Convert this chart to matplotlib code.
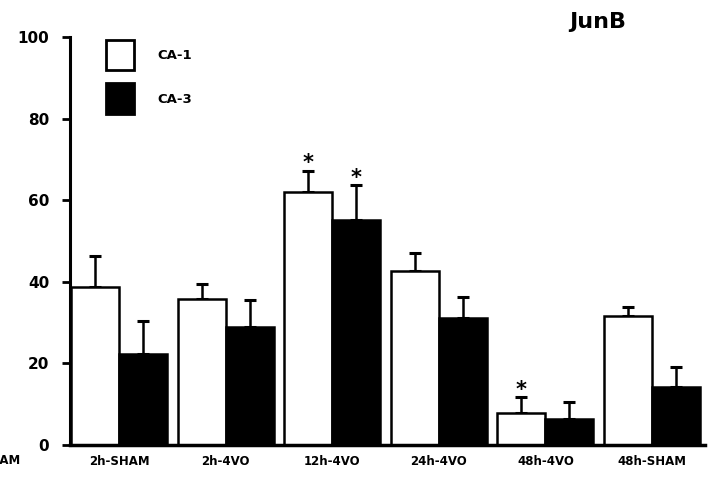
import numpy as np
import matplotlib
matplotlib.use("Agg")
import matplotlib.pyplot as plt
from matplotlib.patches import Rectangle

# data
groups = ['2h-SHAM', '2h-4VO', '12h-4VO', '24h-4VO', '48h-4VO', '48h-SHAM']
ca1 = [38.8, 35.8, 61.9, 42.7, 7.9, 31.6]
ca1_err = [7.6, 3.7, 5.3, 4.4, 3.8, 2.1]
ca3 = [22.4, 29.0, 55.1, 31.0, 6.4, 14.3]
ca3_err = [8.0, 6.5, 8.6, 5.2, 4.0, 4.9]
ca1_star = [False, False, True, False, True, False]
ca3_star = [False, False, True, False, False, False]
yticks = [0, 20, 40, 60, 80, 100]

plt.rcParams['font.family'] = ['DejaVu Sans']
plt.rcParams['font.weight'] = 'bold'

fig = plt.figure(figsize=(7.16, 4.82), dpi=100)
ax = fig.add_axes([0.098, 0.077, 0.887, 0.846])

x = np.arange(len(groups))
w = 0.45
lw = 1.8
ax.bar(x - w / 2, ca1, w, color='white', edgecolor='black', linewidth=lw, zorder=2)
ax.bar(x + w / 2, ca3, w, color='black', edgecolor='black', linewidth=lw, zorder=2)
ax.errorbar(x - w / 2, ca1, yerr=[np.zeros(6), ca1_err], fmt='none', ecolor='black',
            elinewidth=lw, capsize=4, capthick=2.2, zorder=1)
ax.errorbar(x + w / 2, ca3, yerr=[np.zeros(6), ca3_err], fmt='none', ecolor='black',
            elinewidth=lw, capsize=4, capthick=2.2, zorder=1)

# significance stars
for i in range(len(groups)):
    if ca1_star[i]:
        ax.text(x[i] - w / 2, ca1[i] + ca1_err[i] - 0.6, '*', ha='center', va='bottom',
                fontsize=15, fontweight='bold')
    if ca3_star[i]:
        ax.text(x[i] + w / 2, ca3[i] + ca3_err[i] - 0.6, '*', ha='center', va='bottom',
                fontsize=15, fontweight='bold')

ax.set_xlim(-0.46, 5.50)
ax.set_ylim(0, 100)
ax.set_yticks(yticks)
ax.set_yticklabels([str(t) for t in yticks], fontsize=11, fontweight='bold')
ax.set_xticks(x)
ax.set_xticklabels(groups, fontsize=8.5, fontweight='bold')
ax.tick_params(axis='y', length=6, width=2, pad=9)
ax.tick_params(axis='x', length=0, pad=7)
for s in ['top', 'right']:
    ax.spines[s].set_visible(False)
ax.spines['left'].set_linewidth(2.2)
ax.spines['bottom'].set_linewidth(2.5)

# legend boxes
ax.add_patch(Rectangle((-0.12, 91.9), 0.26, 7.4, facecolor='white', edgecolor='black',
                       linewidth=2, clip_on=False))
ax.add_patch(Rectangle((-0.12, 81.1), 0.26, 7.6, facecolor='black', edgecolor='black',
                       linewidth=2, clip_on=False))
ax.text(0.36, 95.5, 'CA-1', fontsize=9.5, fontweight='bold', va='center')
ax.text(0.36, 84.8, 'CA-3', fontsize=9.5, fontweight='bold', va='center')

fig.text(0.835, 0.955, 'JunB', fontsize=16, fontweight='bold', ha='center', va='center')
# cut-off label from neighbouring panel
fig.text(0.028, 0.045, 'SHAM', fontsize=8.5, fontweight='bold', ha='right', va='center')

fig.savefig('out.png', dpi=100)
